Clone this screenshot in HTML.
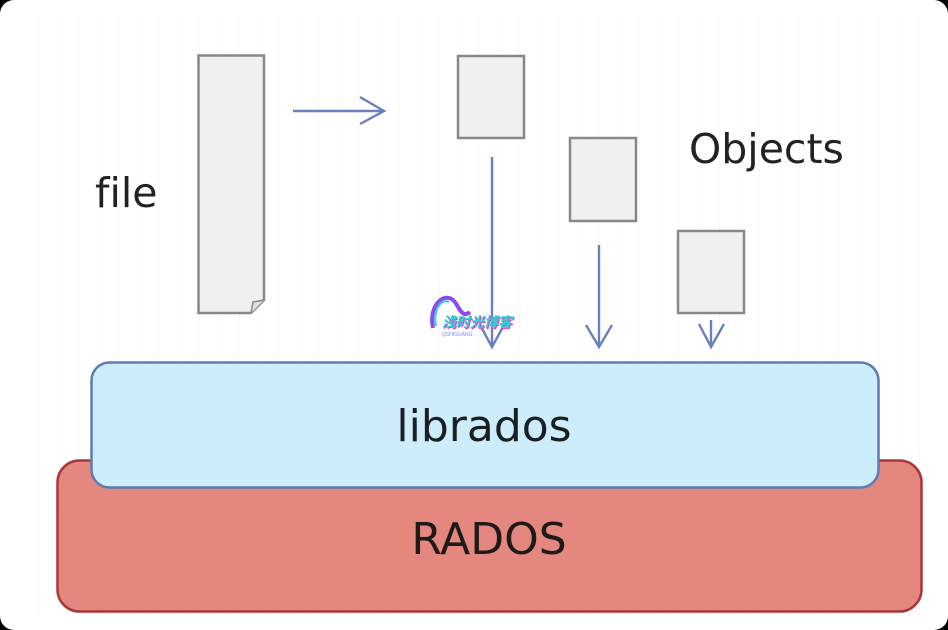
<!DOCTYPE html>
<html>
<head>
<meta charset="utf-8">
<style>
html,body{margin:0;padding:0;width:948px;height:630px;background:#000;overflow:hidden;}
.card{position:absolute;left:0;top:0;width:948px;height:630px;border-radius:14px;background:#fff;overflow:hidden;}
svg{position:absolute;left:0;top:0;}
text{font-variant-ligatures:none;font-feature-settings:"liga" 0;}
</style>
</head>
<body>
<div class="card">
<svg width="948" height="630" viewBox="0 0 948 630" xmlns="http://www.w3.org/2000/svg">
  <defs>
    <pattern id="grid" width="20" height="20" patternUnits="userSpaceOnUse">
      <path d="M20 0 V20" stroke="#f2f2f2" stroke-width="1" fill="none"/>
    </pattern>
  </defs>
  <rect x="30" y="15" width="905" height="600" fill="url(#grid)"/>

  <!-- file document -->
  <path d="M198.5 55.5 H264 V300 L251 313 H198.5 Z" fill="#f0f0f0" stroke="#888" stroke-width="2.5"/>
  <path d="M251 313 L253 302 L264 300" fill="#e0e0e0" stroke="#888" stroke-width="1.5"/>
  <text x="95" y="207" font-family="DejaVu Sans, 'Liberation Sans', sans-serif" font-size="41" fill="#222">f<tspan>ile</tspan></text>

  <!-- horizontal arrow -->
  <g stroke="#6b80bd" stroke-width="2.4" fill="none">
    <line x1="293" y1="111" x2="383" y2="111"/>
    <polyline points="360,97 384,111 360,124"/>
  </g>

  <!-- objects -->
  <rect x="458" y="56" width="66" height="82" fill="#f0f0f0" stroke="#888" stroke-width="2.5"/>
  <rect x="570" y="138" width="66" height="83" fill="#f0f0f0" stroke="#888" stroke-width="2.5"/>
  <rect x="678" y="231" width="66" height="82" fill="#f0f0f0" stroke="#888" stroke-width="2.5"/>
  <text x="689" y="163" font-family="DejaVu Sans, 'Liberation Sans', sans-serif" font-size="41" fill="#222">Objects</text>

  <!-- vertical arrows -->
  <g stroke="#6b80bd" stroke-width="2.4" fill="none">
    <line x1="492" y1="157" x2="492" y2="346"/>
    <polyline points="480,325 492,347 504,325"/>
    <line x1="599" y1="245" x2="599" y2="346"/>
    <polyline points="586,325 599,347 612,325"/>
    <line x1="711" y1="320" x2="711" y2="346"/>
    <polyline points="699,324 711,347 724,324"/>
  </g>

  <!-- RADOS -->
  <rect x="57.5" y="460.5" width="864" height="151" rx="22" ry="22" fill="#e3877f" stroke="#a9373a" stroke-width="2.5"/>
  <text x="489" y="554" text-anchor="middle" font-family="DejaVu Sans, 'Liberation Sans', sans-serif" font-size="44" fill="#1e1a1a">RADOS</text>

  <!-- librados -->
  <rect x="91.5" y="362.5" width="787" height="125" rx="18" ry="18" fill="#cdedfb" stroke="#5b7db2" stroke-width="2.5"/>
  <text x="484" y="441" text-anchor="middle" font-family="DejaVu Sans, 'Liberation Sans', sans-serif" font-size="44" fill="#1b1f24">librados</text>

  <!-- watermark -->
  <path d="M433 328 C428 305 445 290 455 302 C460 310 463 318 470 312" stroke="#8a4cf0" stroke-width="4" fill="none"/>
  <path d="M436 326 C433 310 441 298 449 302" stroke="#33d0e0" stroke-width="2" fill="none"/>
  <text x="443" y="328" font-family="'Liberation Sans','Noto Sans CJK SC',sans-serif" font-size="14" font-weight="bold" font-style="italic" fill="#e23ad0">浅时光博客</text>
  <text x="442" y="327" font-family="'Liberation Sans','Noto Sans CJK SC',sans-serif" font-size="14" font-weight="bold" font-style="italic" fill="#28d6d0">浅时光博客</text>
  <text x="442" y="336" font-family="'Liberation Sans',sans-serif" font-size="5" fill="#7a8cf0">QSHIGUANG</text>
</svg>
</div>
</body>
</html>
